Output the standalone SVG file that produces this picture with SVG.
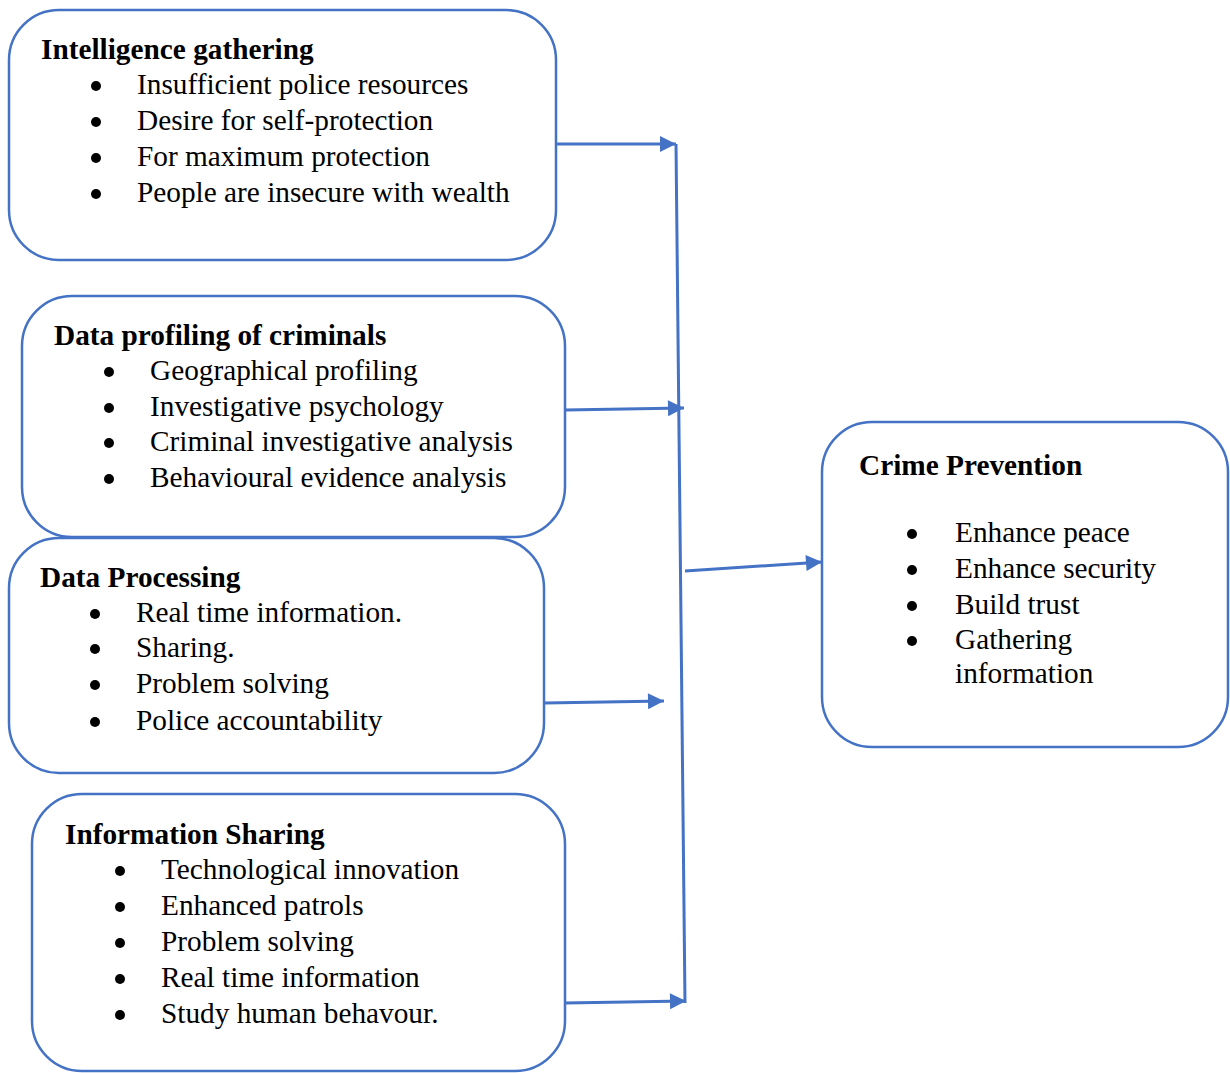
<svg xmlns="http://www.w3.org/2000/svg" width="1230" height="1073" viewBox="0 0 1230 1073">
<style>
.box{fill:#fff;stroke:#4472C4;stroke-width:2.5}
text{font-family:"Liberation Serif","Times New Roman",serif;font-size:29.3px;fill:#000}
.h{font-weight:bold}
.b{fill:#000}
.c{stroke:#4472C4;stroke-width:3;fill:none}
</style>
<defs>
<marker id="ah" viewBox="0 0 10 10" refX="10" refY="5" markerWidth="18" markerHeight="16" markerUnits="userSpaceOnUse" orient="auto">
<path d="M0,0 L10,5 L0,10 z" fill="#4472C4"/>
</marker>
</defs>
<rect width="1230" height="1073" fill="#fff"/>
<g id="n1">
<rect class="box" x="9" y="10" width="547" height="250" rx="50"/>
<text class="h" x="41" y="59">Intelligence gathering</text>
<circle class="b" cx="96" cy="86" r="5"/><text x="137" y="94">Insufficient police resources</text>
<circle class="b" cx="96" cy="122" r="5"/><text x="137" y="130">Desire for self-protection</text>
<circle class="b" cx="96" cy="158" r="5"/><text x="137" y="166">For maximum protection</text>
<circle class="b" cx="96" cy="194" r="5"/><text x="137" y="202">People are insecure with wealth</text>
</g>
<g id="n2">
<rect class="box" x="22" y="296" width="543" height="241" rx="50"/>
<text class="h" x="54" y="345">Data profiling of criminals</text>
<circle class="b" cx="109" cy="372" r="5"/><text x="150" y="380">Geographical profiling</text>
<circle class="b" cx="109" cy="408" r="5"/><text x="150" y="416">Investigative psychology</text>
<circle class="b" cx="109" cy="443" r="5"/><text x="150" y="451">Criminal investigative analysis</text>
<circle class="b" cx="109" cy="479" r="5"/><text x="150" y="487">Behavioural evidence analysis</text>
</g>
<g id="n3">
<rect class="box" x="9" y="538" width="535" height="235" rx="50"/>
<text class="h" x="40" y="587">Data Processing</text>
<circle class="b" cx="95" cy="614" r="5"/><text x="136" y="622">Real time information.</text>
<circle class="b" cx="95" cy="649" r="5"/><text x="136" y="657">Sharing.</text>
<circle class="b" cx="95" cy="685" r="5"/><text x="136" y="693">Problem solving</text>
<circle class="b" cx="95" cy="722" r="5"/><text x="136" y="730">Police accountability</text>
</g>
<g id="n4">
<rect class="box" x="32" y="794" width="533" height="277" rx="50"/>
<text class="h" x="65" y="844">Information Sharing</text>
<circle class="b" cx="120" cy="871" r="5"/><text x="161" y="879">Technological innovation</text>
<circle class="b" cx="120" cy="907" r="5"/><text x="161" y="915">Enhanced patrols</text>
<circle class="b" cx="120" cy="943" r="5"/><text x="161" y="951">Problem solving</text>
<circle class="b" cx="120" cy="979" r="5"/><text x="161" y="987">Real time information</text>
<circle class="b" cx="120" cy="1015" r="5"/><text x="161" y="1023">Study human behavour.</text>
</g>
<g id="n5">
<rect class="box" x="822" y="422" width="406" height="325" rx="50"/>
<text class="h" x="859" y="475">Crime Prevention</text>
<circle class="b" cx="912" cy="534" r="5"/><text x="955" y="542">Enhance peace</text>
<circle class="b" cx="912" cy="570" r="5"/><text x="955" y="578">Enhance security</text>
<circle class="b" cx="912" cy="606" r="5"/><text x="955" y="614">Build trust</text>
<circle class="b" cx="912" cy="641" r="5"/><text x="955" y="649">Gathering</text>
<text x="955" y="683">information</text>
</g>
<g id="connectors">
<path class="c" d="M676,144 L685,1003"/>
<path class="c" d="M556,144 L676,144" marker-end="url(#ah)"/>
<path class="c" d="M565,410 L684,408" marker-end="url(#ah)"/>
<path class="c" d="M545,703 L664,701" marker-end="url(#ah)"/>
<path class="c" d="M565,1003 L686,1001" marker-end="url(#ah)"/>
<path class="c" d="M685,571 L822,562" marker-end="url(#ah)"/>
</g>
</svg>
